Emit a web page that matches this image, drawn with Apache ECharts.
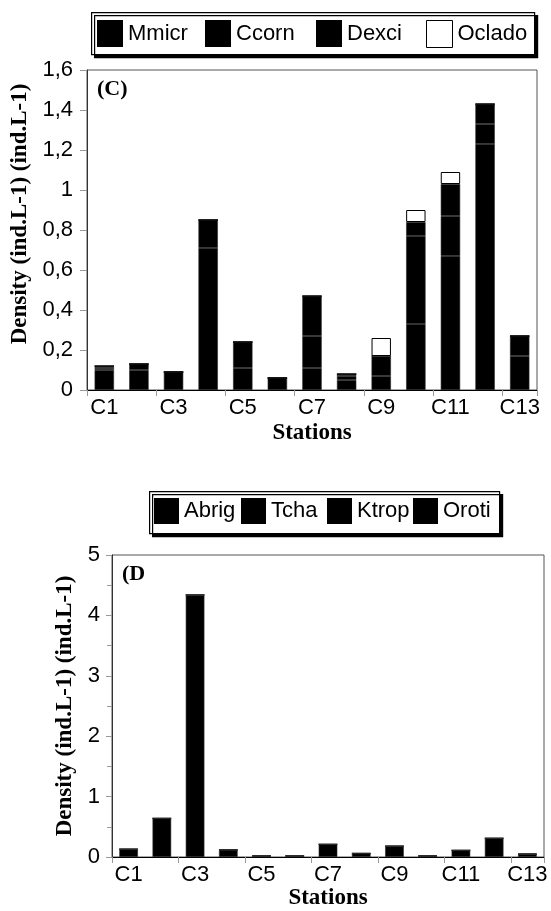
<!DOCTYPE html>
<html>
<head>
<meta charset="utf-8">
<script src="https://cdn.jsdelivr.net/npm/echarts@6/dist/echarts.min.js"></script>
<style>
  html, body { margin: 0; padding: 0; background: #fff; }
  #main { width: 551px; height: 911px; }
</style>
</head>
<body>
<div id="main"></div>
<script>
  var stations = ["C1", "C2", "C3", "C4", "C5", "C6", "C7", "C8", "C9", "C10", "C11", "C12", "C13"];

  // (C) stacked densities
  var mmicr  = [0.10, 0.10, 0.09, 0.71, 0.11, 0.06, 0.11, 0.05, 0.07, 0.33, 0.67, 1.23, 0.17];
  var ccorn  = [0.01, 0.03, 0, 0.14, 0.13, 0, 0.16, 0.02, 0.10, 0.44, 0.20, 0.10, 0.10];
  var dexci  = [0.01, 0, 0, 0, 0, 0, 0.20, 0.01, 0, 0.07, 0.16, 0.10, 0];
  var oclado = [0, 0, 0, 0, 0, 0, 0, 0, 0.09, 0.06, 0.06, 0, 0];

  // (D) stacked densities
  var abrig = [0.13, 0.64, 4.34, 0.12, 0.02, 0.02, 0.21, 0.06, 0.18, 0.02, 0.11, 0.31, 0.05];
  var tcha  = [0, 0, 0, 0, 0, 0, 0, 0, 0, 0, 0, 0, 0];
  var ktrop = [0, 0, 0, 0, 0, 0, 0, 0, 0, 0, 0, 0, 0];
  var oroti = [0, 0, 0, 0, 0, 0, 0, 0, 0, 0, 0, 0, 0];

  var sans = "Liberation Sans", serif = "Liberation Serif",
    tickColor = "#999", yName = "Density (ind.L-1) (ind.L-1)";

  function commaFmt(v){
    return (Math.round(v * 10) / 10).toString().replace(".", ",");
  }

  // one legend per entry so the squares sit at the evenly spaced spots of the original
  function legendRow(names, lefts, top, sq, hollow){
    return names.map(function(name, i){
      var st = hollow === name
        ? {color: "#fff", borderColor: "#000", borderWidth: 1}
        : {borderWidth: 0};
      return {
        left: lefts[i], top: top, padding: 0,
        data: [{name: name, itemStyle: st}], icon: "rect",
        itemWidth: sq, itemHeight: sq + 1,
        selectedMode: false,
        textStyle: {fontFamily: sans, fontSize: 22, color: "#000"}
      };
    });
  }

  function legendBox(x, y, w, h){
    return {
      type: "rect", left: x, top: y, z: -1,
      shape: {width: w, height: h},
      style: {fill: "#fff", stroke: "#000", lineWidth: 1.2,
        shadowColor: "#000", shadowBlur: 0, shadowOffsetX: 3, shadowOffsetY: 3}
    };
  }

  function xAxisOpt(grid){
    return {
      type: "category", gridIndex: grid, data: stations,
      axisLine: {lineStyle: {color: "#000", width: 1}},
      axisTick: {show: true, length: 6, lineStyle: {color: tickColor}},
      axisLabel: {interval: 1, margin: 7, fontFamily: sans, fontSize: 22, color: "#000"},
      name: "Stations", nameLocation: "middle",
      nameTextStyle: {fontFamily: serif, fontWeight: "bold", fontSize: 23, color: "#000"}
    };
  }

  function barSeries(name, data, stack, idx, fill){
    return {
      type: "bar", name: name, data: data, stack: stack,
      xAxisIndex: idx, yAxisIndex: idx, barWidth: "56%",
      itemStyle: fill === "#fff"
        ? {color: "#fff", borderColor: "#000", borderWidth: 1}
        : {color: fill, borderColor: "#2a2a2a", borderWidth: 0.6},
      emphasis: {disabled: true}
    };
  }

  function getOptions(){
    var xC = xAxisOpt(0), xD = xAxisOpt(1);
    xC.nameGap = 32;
    xD.nameGap = 30;

    return {
      animation: false,
      backgroundColor: "#fff",
      legend: legendRow(["Mmicr", "Ccorn", "Dexci", "Oclado"], [97, 205, 316, 426], 20, 26, "Oclado")
        .concat(legendRow(["Abrig", "Tcha", "Ktrop", "Oroti"], [154, 241, 327, 413], 498, 25)),
      grid: [
        {left: 87, top: 70, width: 450, height: 320, show: true, borderColor: "#555", borderWidth: 1, backgroundColor: "transparent"},
        {left: 112, top: 555, width: 432, height: 304, show: true, borderColor: "#555", borderWidth: 1, backgroundColor: "transparent"}
      ],
      xAxis: [xC, xD],
      yAxis: [
        {
          type: "value", gridIndex: 0, min: 0, max: 1.6, interval: 0.2,
          axisLine: {show: true, lineStyle: {color: "#333"}},
          axisTick: {show: true, length: 7, lineStyle: {color: tickColor}},
          splitLine: {show: false},
          axisLabel: {margin: 14, fontFamily: sans, fontSize: 22, color: "#000", formatter: commaFmt},
          name: yName, nameLocation: "middle", nameGap: 52,
          nameTextStyle: {fontFamily: serif, fontWeight: "bold", fontSize: 23, color: "#000", padding: [0, 0, 0, 32]}
        },
        {
          type: "value", gridIndex: 1, min: 0, max: 5, interval: 1,
          axisLine: {show: true, lineStyle: {color: "#333"}},
          axisTick: {show: true, length: 6, lineStyle: {color: tickColor}},
          minorTick: {show: true, splitNumber: 2, length: 5, lineStyle: {color: tickColor}},
          splitLine: {show: false},
          axisLabel: {margin: 12, fontFamily: sans, fontSize: 22, color: "#000"},
          name: yName, nameLocation: "middle", nameGap: 24,
          nameTextStyle: {fontFamily: serif, fontWeight: "bold", fontSize: 23, color: "#000"}
        }
      ],
      graphic: [
        legendBox(91, 12, 443, 42),
        legendBox(149, 491, 350, 42),
        {type: "text", left: 97, top: 78, style: {text: "(C)", fontFamily: serif, fontWeight: "bold", fontSize: 22, fill: "#000"}},
        {type: "text", left: 122, top: 563, style: {text: "(D", fontFamily: serif, fontWeight: "bold", fontSize: 22, fill: "#000"}}
      ],
      series: [
        barSeries("Mmicr", mmicr, "c", 0, "#000"),
        barSeries("Ccorn", ccorn, "c", 0, "#000"),
        barSeries("Dexci", dexci, "c", 0, "#000"),
        barSeries("Oclado", oclado, "c", 0, "#fff"),
        barSeries("Abrig", abrig, "d", 1, "#000"),
        barSeries("Tcha", tcha, "d", 1, "#000"),
        barSeries("Ktrop", ktrop, "d", 1, "#000"),
        barSeries("Oroti", oroti, "d", 1, "#000")
      ]
    };
  }

  var chartDom = echarts.init(document.getElementById("main"));
  chartDom.setOption(getOptions());
</script>
</body>
</html>
